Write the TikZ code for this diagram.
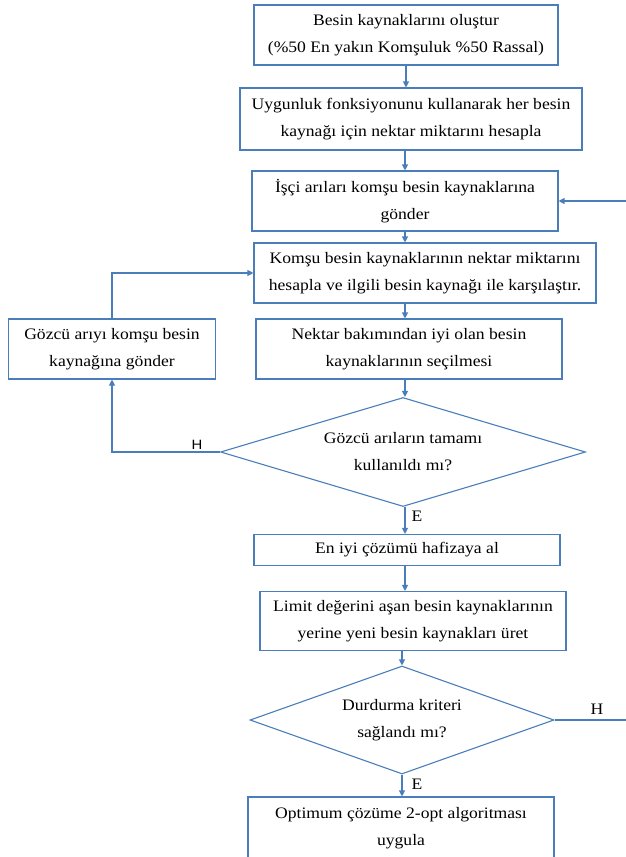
\documentclass[tikz,border=0pt]{standalone}
\usepackage{fontspec}
\setmainfont{Liberation Serif}[FakeStretch=1.1]
\newfontfamily\harffont{Liberation Sans}[FakeStretch=1.1]
\usetikzlibrary{shapes.geometric,arrows.meta}
\definecolor{akisMavi}{RGB}{74,126,187}

\begin{document}
\begin{tikzpicture}[x=1pt,y=-1pt,
  kutu/.style={rectangle,draw=akisMavi,line width=1.1pt,inner sep=0pt,align=center,
    font=\fontsize{16}{27}\selectfont},
  karar/.style={diamond,draw=akisMavi,line width=1.1pt,inner sep=0pt,align=center,
    font=\fontsize{16}{27}\selectfont},
  ok/.style={draw=akisMavi,line width=1.1pt,-{Triangle[width=6pt,length=6pt]}},
  harf/.style={font=\fontsize{16}{16}\selectfont,inner sep=0pt}]
\useasboundingbox (0,0) rectangle (626,857);
\clip (0,0) rectangle (626,856);
% x, y in pixels
\node[kutu,minimum width=304pt,minimum height=60pt] (b1) at (406,35) {Besin kaynaklarını oluştur\\(\%50 En yakın Komşuluk \%50 Rassal)};
\node[kutu,minimum width=342pt,minimum height=62pt] (b2) at (411,119) {Uygunluk fonksiyonunu kullanarak her besin\\kaynağı için nektar miktarını hesapla};
\node[kutu,minimum width=306pt,minimum height=60pt] (b3) at (405,201) {İşçi arıları komşu besin kaynaklarına\\gönder};
\node[kutu,minimum width=342pt,minimum height=60pt] (b4) at (425,273) {Komşu besin kaynaklarının nektar miktarını\\hesapla ve ilgili besin kaynağı ile karşılaştır.};
\node[kutu,minimum width=306pt,minimum height=60pt] (b5) at (409,349) {Nektar bakımından iyi olan besin\\kaynaklarının seçilmesi};
\node[kutu,minimum width=207pt,minimum height=60pt] (gozcu) at (112,349) {Gözcü arıyı komşu besin\\kaynağına gönder};
\node[karar,aspect=3.35,minimum width=365pt,minimum height=109pt] (d1) at (403,452) {Gözcü arıların tamamı\\kullanıldı mı?};
\node[kutu,minimum width=306pt,minimum height=31pt] (b6) at (407,550) {En iyi çözümü hafizaya al};
\node[kutu,minimum width=306pt,minimum height=59pt] (b7) at (413,621) {Limit değerini aşan besin kaynaklarının\\yerine yeni besin kaynakları üret};
\node[karar,aspect=2.8,minimum width=304pt,minimum height=108pt] (d2) at (402,720) {Durdurma kriteri\\sağlandı mı?};
\node[kutu,minimum width=306pt,minimum height=62pt] (b8) at (401,828) {Optimum çözüme 2-opt algoritması\\uygula};
% labels
\node[harf,font=\harffont\fontsize{13.5}{13.5}\selectfont] (h1) at (197,445) {H};
\node[harf] (e1) at (417,516) {E};
\node[harf] (h2) at (597,709) {H};
\node[harf] (e2) at (417,784) {E};
% arrows
\draw[ok] (b1.south -| 406,0) -- (b2.north -| 406,0);
\draw[ok] (b2.south -| 405,0) -- (b3.north -| 405,0);
\draw[ok] (b3.south -| 405,0) -- (b4.north -| 405,0);
\draw[ok] (b4.south -| 405,0) -- (b5.north -| 405,0);
\draw[ok] (b5.south -| 405,0) -- (d1.north -| 405,0);
\draw[ok] (d1.south -| 405,0) -- (b6.north -| 405,0);
\draw[ok] (b6.south -| 405,0) -- (b7.north -| 405,0);
\draw[ok] (b7.south -| 402,0) -- (d2.north);
\draw[ok] (d2.south) -- (b8.north -| d2.south);
\draw[ok] (d1.west) -| (gozcu.south);
\draw[ok] (gozcu.north) |- (b4.west);
\draw[ok] (d2.east) -- ++(100,0) |- (b3.east);
\end{tikzpicture}
\end{document}
